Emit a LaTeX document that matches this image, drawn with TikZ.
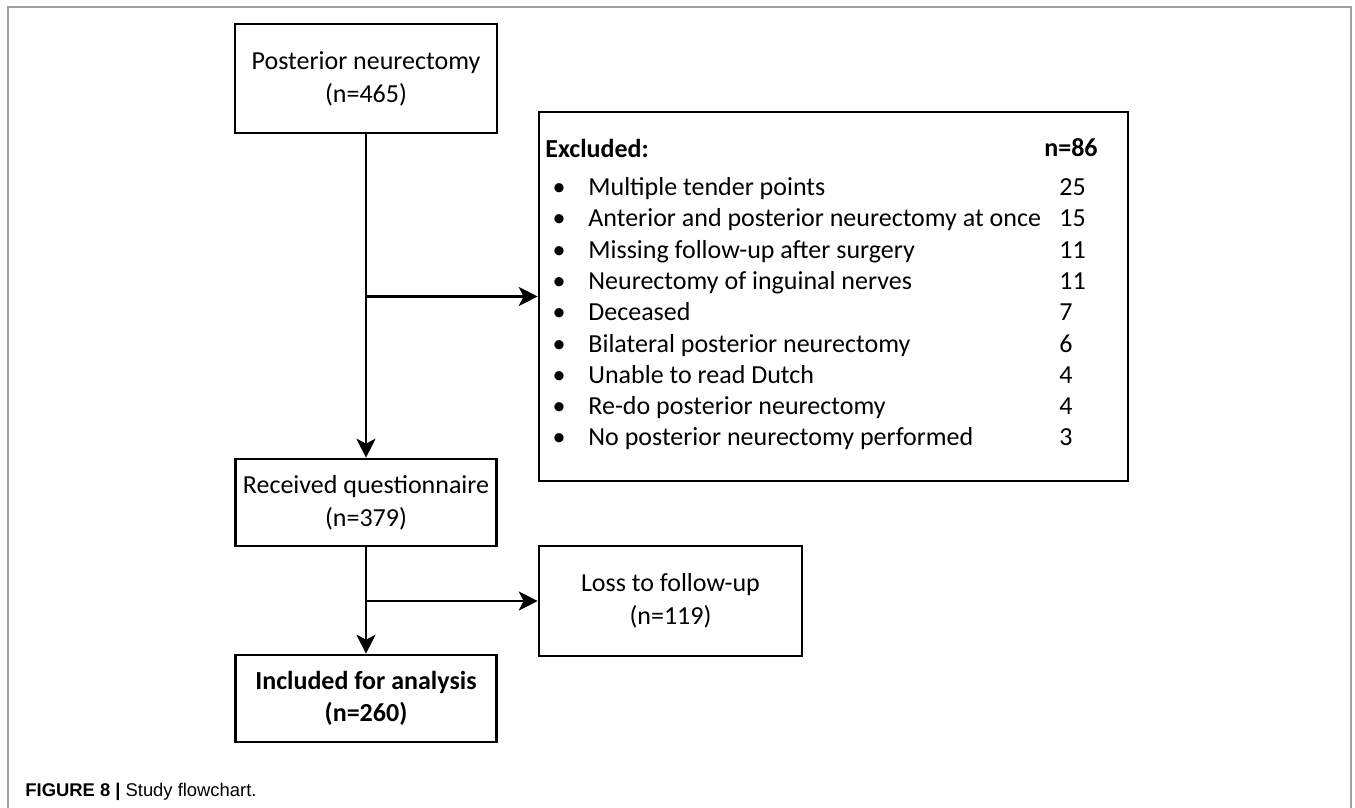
\documentclass[tikz,border=0pt]{standalone}
\usepackage{fontspec}
\setmainfont{Carlito}
\newfontfamily\capfont{Liberation Sans}
\usetikzlibrary{arrows.meta}

\tikzset{
	box/.style={draw, line width=1.3pt, align=center, inner sep=0pt,
		font=\fontsize{13}{16.5}\selectfont},
	flow/.style={-{Stealth[length=9.5pt, width=9.5pt, inset=2.5pt]}, line width=1.1pt},
	listtext/.style={anchor=base west, inner sep=0pt, font=\fontsize{13}{15}\selectfont}
}

\begin{document}
\begin{tikzpicture}[x=0.5pt, y=-0.5pt]
	\useasboundingbox (0, 0) rectangle (1355, 808);
	
	% frame of the figure
	\draw[gray!75, line width=1pt] (8, 812) -- (8, 7) -- (1351, 7) -- (1351, 812);
	
	% main flow
	\node[box, minimum width=131pt, minimum height=54.5pt] (post) at (366, 78.5)
		{Posterior neurectomy\\(n=465)};
	\node[box, minimum width=130.5pt, minimum height=43.5pt] (recv) at (366, 502.5)
		{Received questionnaire\\(n=379)};
	\node[box, minimum width=130.5pt, minimum height=43.5pt, font=\fontsize{13}{16}\selectfont\bfseries] (incl) at (366, 698.5)
		{Included for analysis\\(n=260)};
	
	% side boxes
	\node[box, minimum width=294.5pt, minimum height=184.5pt] (excl) at (833.5, 296.5) {};
	\node[box, minimum width=131.5pt, minimum height=55pt] (loss) at (670.5, 601)
		{Loss to follow-up\\(n=119)};
	
	% excluded list
	\node[listtext, font=\fontsize{13}{15}\selectfont\bfseries] (exclhead) at (545, 157) {Excluded:};
	\node[listtext, anchor=base east, font=\fontsize{13}{15}\selectfont\bfseries] (excltotal) at (1098, 156) {n=86};
	\foreach \reason/\count [count=\i] in {
		Multiple tender points/25,
		Anterior and posterior neurectomy at once/15,
		Missing follow-up after surgery/11,
		Neurectomy of inguinal nerves/11,
		Deceased/7,
		Bilateral posterior neurectomy/6,
		Unable to read Dutch/4,
		Re-do posterior neurectomy/4,
		No posterior neurectomy performed/3}{
		\node[listtext, anchor=base] (dot\i) at (559, 164.2 + 31.3 * \i) {\textbullet};
		\node[listtext] (reason\i) at (588, 164.2 + 31.3 * \i) {\reason};
		\node[listtext] (count\i) at (1059, 164.2 + 31.3 * \i) {\count};
	}
	
	% connectors
	\draw[flow] (post) -- (recv);
	\draw[flow] (post.south |- excl.west) -- (excl.west);
	\draw[flow] (recv) -- (incl);
	\draw[flow] (recv.south |- loss.west) -- (loss.west);
	
	% caption
	\node[anchor=base west, inner sep=0pt, font=\capfont\fontsize{9.2}{10}\selectfont] (caption) at (25, 796)
		{\textbf{FIGURE 8} \textbf{|} Study flowchart.};
\end{tikzpicture}
\end{document}
